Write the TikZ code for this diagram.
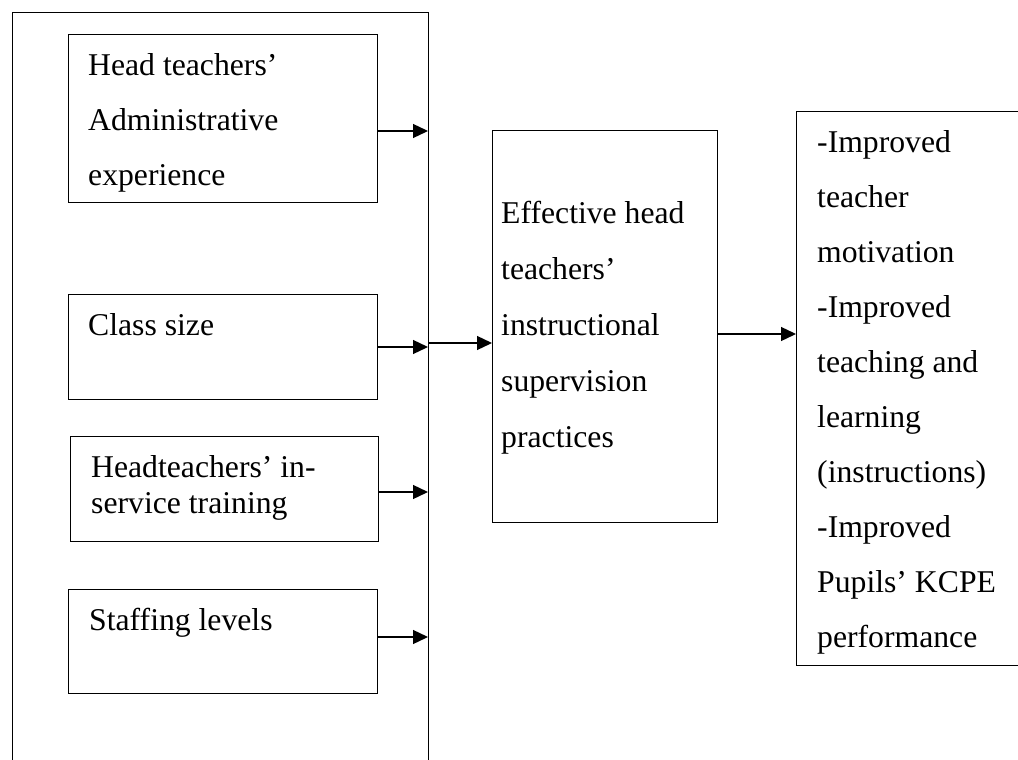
\documentclass[tikz,border=0pt]{standalone}
\usepackage{fontspec}
\setmainfont{Liberation Serif}
\usepackage{tikz}
\usetikzlibrary{arrows.meta,positioning,calc}

\begin{document}
\begin{tikzpicture}[
        x=1pt, y=-1pt,
        font=\fontsize{31.7}{55}\selectfont,
        % Block styles
        frame/.style={
            rectangle,
            draw=black,
            line width=1.3pt,
            inner sep=0pt,
            anchor=north west
        },
        factor/.style={
            frame,
            minimum width=309pt,
            minimum height=#1
        },
        label/.style={
            anchor=base west,
            align=left,
            inner sep=0pt
        },
        arrow/.style={-{Triangle[length=15pt,width=14pt]}, line width=1.3pt}
    ]

    % Canvas
    \useasboundingbox (0,0) rectangle (1018,760);
    \clip (0,0) rectangle (1018,760);

    % Independent variables (text placed by its last baseline)
    \node[frame, minimum width=416pt, minimum height=800pt] (indep) at (12,12) {};
    \node[factor=168pt] (admin) at (68,34) {};
    \node[label] (admintxt) at (88,185) {Head teachers'\\Administrative\\experience};
    \node[factor=105pt] (class) at (68,294) {};
    \node[label] (classtxt) at (88,335) {Class size};
    \node[factor=105pt, minimum width=308pt] (train) at (70,436) {};
    \node[label, font=\fontsize{31.7}{36}\selectfont] (traintxt) at (91,513) {Headteachers' in-\\service training};
    \node[factor=104pt] (staff) at (68,589) {};
    \node[label] (stafftxt) at (89,630) {Staffing levels};

    % Supervision practices
    \node[frame, minimum width=225pt, minimum height=392pt] (superv) at (492,130) {};
    \node[label, font=\fontsize{31.7}{56}\selectfont] (supervtxt) at (501,447) {Effective head\\teachers'\\instructional\\supervision\\practices};

    % Outcomes
    \node[frame, minimum width=400pt, minimum height=554pt] (outcome) at (796,111) {};
    \node[label] (outcometxt) at (817,647) {-Improved\\teacher\\motivation\\-Improved\\teaching and\\learning\\(instructions)\\-Improved\\Pupils' KCPE\\performance};

    % Arrow heights
    \coordinate (a1) at (428,131);
    \coordinate (a2) at (428,347);
    \coordinate (a3) at (428,492);
    \coordinate (a4) at (428,637);
    \coordinate (a5) at (428,343);
    \coordinate (a6) at (717,334);

    % Connections
    \draw[arrow] (admin.east |- a1) -- (a1);
    \draw[arrow] (class.east |- a2) -- (a2);
    \draw[arrow] (train.east |- a3) -- (a3);
    \draw[arrow] (staff.east |- a4) -- (a4);
    \draw[arrow] (indep.east |- a5) -- (superv.west |- a5);
    \draw[arrow] (superv.east |- a6) -- (outcome.west |- a6);

\end{tikzpicture}
\end{document}
